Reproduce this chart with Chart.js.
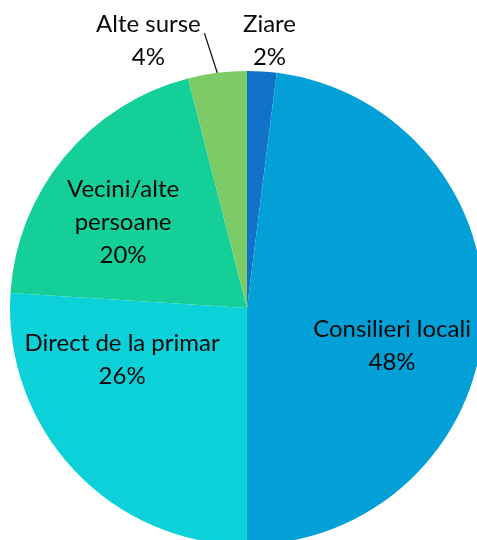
<!DOCTYPE html>
<html>
<head>
<meta charset="utf-8">
<script src="https://cdn.jsdelivr.net/npm/chart.js@4"></script>
<style>
  html, body { margin: 0; padding: 0; background: #fff; overflow: hidden; }
  #wrap { position: relative; width: 494px; height: 612px; }
</style>
</head>
<body>
<div id="wrap"><canvas id="myChart"></canvas></div>
<script>
const categories = ['Ziare', 'Consilieri locali', 'Direct de la primar', 'Vecini/alte persoane', 'Alte surse'];
const values = [2, 48, 26, 20, 4];
const colors = ['#1271C9', '#03A0D8', '#0DD1D9', '#15CF99', '#7DCB66'];
// label text lines per slice
const labelLines = [
  ['Ziare', '2%'],
  ['Consilieri locali', '48%'],
  ['Direct de la primar', '26%'],
  ['Vecini/alte', 'persoane', '20%'],
  ['Alte surse', '4%']
];
// label centre as fraction of radius from the pie centre
const labelPos = [[0.095, -1.126], [0.612, 0.16], [-0.527, 0.22], [-0.523, -0.362], [-0.416, -1.126]];

const pieLabels = {
  id: 'pieLabels',
  afterDatasetsDraw(chart) {
    const c = chart.ctx;
    const arcs = chart.getDatasetMeta(0).data;
    c.save();
    c.font = '24px Lato, "Open Sans", sans-serif';
    c.fillStyle = '#0a0a0a';
    c.textAlign = 'center';
    c.textBaseline = 'middle';
    const lh = 33;
    arcs.forEach((arc, i) => {
      const r = arc.outerRadius;
      const cx = arc.x + labelPos[i][0] * r;
      const cy = arc.y + labelPos[i][1] * r;
      const lines = labelLines[i];
      lines.forEach((t, k) => {
        c.fillText(t, cx, cy + (k - (lines.length - 1) / 2) * lh);
      });
    });
    // leader line for the small "Alte surse" slice
    const a = arcs[4];
    const mid = (a.startAngle + a.endAngle) / 2;
    const ex = a.x + Math.cos(mid) * a.outerRadius;
    const ey = a.y + Math.sin(mid) * a.outerRadius;
    const sx = a.x + labelPos[4][0] * a.outerRadius + 56;
    const sy = a.y + labelPos[4][1] * a.outerRadius - 8;
    c.strokeStyle = '#111';
    c.lineWidth = 1.3;
    c.beginPath();
    c.moveTo(sx, sy);
    c.lineTo(ex, ey);
    c.stroke();
    c.restore();
  }
};

new Chart(document.getElementById('myChart'), {
  type: 'pie',
  data: {
    labels: categories,
    datasets: [{
      data: values,
      backgroundColor: colors,
      borderWidth: 0
    }]
  },
  options: {
    responsive: true,
    maintainAspectRatio: false,
    animation: false,
    layout: { padding: { top: 12, bottom: 8, left: 10, right: 10 } },
    plugins: {
      legend: { display: false },
      tooltip: { enabled: false }
    }
  },
  plugins: [pieLabels]
});
</script>
</body>
</html>
